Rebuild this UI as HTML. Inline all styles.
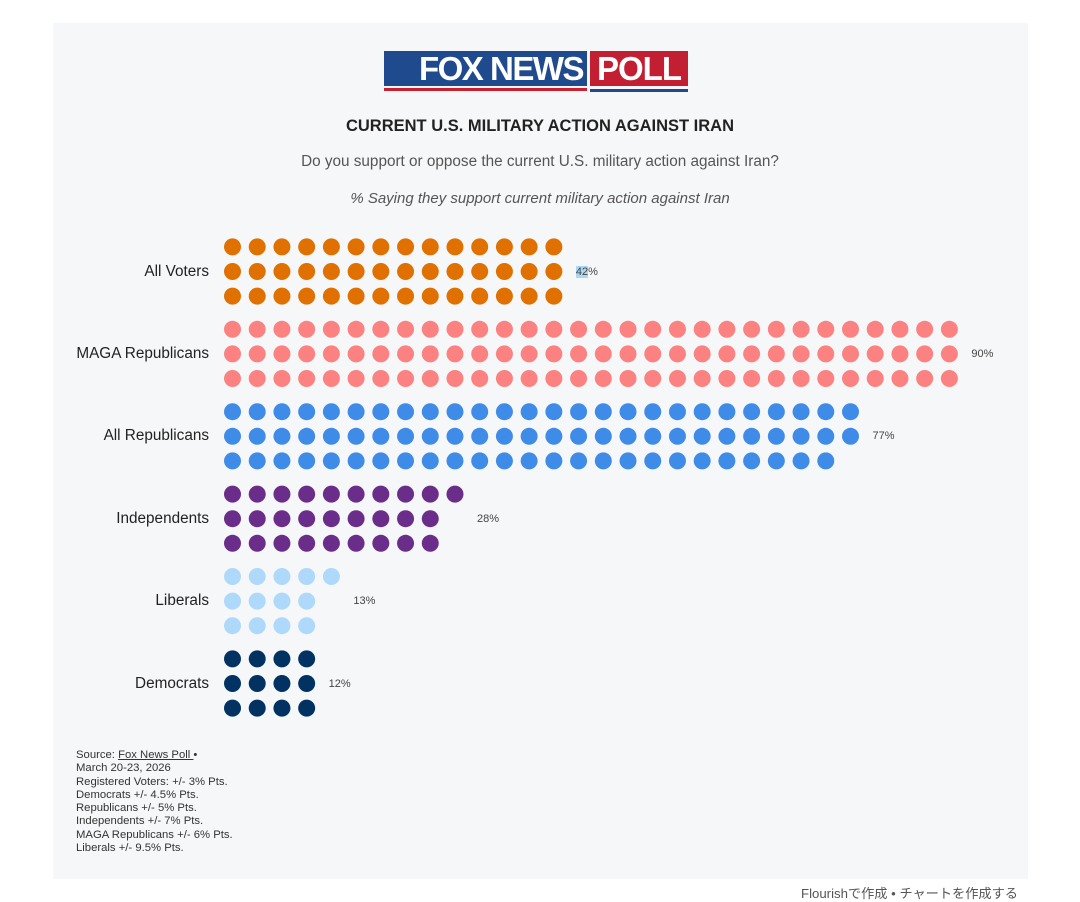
<!DOCTYPE html>
<html><head><meta charset="utf-8"><style>
body{margin:0;background:#fff;width:1080px;height:898px;position:relative;font-family:"Liberation Sans",sans-serif;overflow:hidden}
#panel{position:absolute;left:53px;top:23px;width:975px;height:856px;background:#f6f7f9}
.t{position:absolute;left:0;width:1080px;text-align:center}
.lab{position:absolute;right:871px;font-size:15.3px;color:#222;text-align:right;white-space:nowrap}
.pct{position:absolute;font-size:11px;color:#444}
#src{position:absolute;left:76px;top:749px;font-size:11.3px;line-height:13.3px;color:#333}
</style></head><body>
<div id="panel"></div>
<div style="position:absolute;left:384px;top:51px;width:203px;height:35px;background:#1f4a8e"></div>
<div style="position:absolute;left:384px;top:88px;width:203px;height:3px;background:#c8202f"></div>
<div style="position:absolute;left:590px;top:51px;width:98px;height:35px;background:#c21f32"></div>
<div style="position:absolute;left:590px;top:89px;width:98px;height:3px;background:#1f4a8e"></div>
<div style="position:absolute;left:384px;top:51px;width:203px;height:35px;color:#fff;font-weight:bold;font-size:33px;line-height:36px;text-align:right;padding-right:4px;box-sizing:border-box;letter-spacing:-1.5px">FOX NEWS</div>
<div style="position:absolute;left:590px;top:51px;width:98px;height:35px;color:#fff;font-weight:bold;font-size:33px;line-height:36px;text-align:center;letter-spacing:-1px">POLL</div>
<div class="t" style="top:117px;font-size:16.5px;font-weight:bold;color:#222">CURRENT U.S. MILITARY ACTION AGAINST IRAN</div>
<div class="t" style="top:153px;font-size:15.3px;color:#555">Do you support or oppose the current U.S. military action against Iran?</div>
<div class="t" style="top:190px;font-size:15px;color:#555;font-style:italic">% Saying they support current military action against Iran</div>
<svg id="s" width="1080" height="898" style="position:absolute;left:0;top:0"></svg>
<div id="src">Source: <u>Fox News Poll </u> •<br>March 20-23, 2026<br>Registered Voters: +/- 3% Pts.<br>Democrats +/- 4.5% Pts.<br>Republicans +/- 5% Pts.<br>Independents +/- 7% Pts.<br>MAGA Republicans +/- 6% Pts.<br>Liberals +/- 9.5% Pts.</div>
<div style="position:absolute;right:62px;top:883px;font-size:13.2px;color:#555;font-family:'Liberation Sans','Noto Sans CJK JP',sans-serif">Flourishで作成 • チャートを作成する</div>
<script>
var g=[["All Voters",[14,14,14],"#e07000","42%"],["MAGA Republicans",[30,30,30],"#fb8280","90%"],["All Republicans",[26,26,25],"#3f8ce8","77%"],["Independents",[10,9,9],"#6b2d8a","28%"],["Liberals",[5,4,4],"#aed9fb","13%"],["Democrats",[4,4,4],"#023262","12%"]];
var s="",h="";
g.forEach(function(d,i){var cy=271.5+i*82.4;
d[1].forEach(function(n,r){for(var c=0;c<n;c++)s+='<circle cx="'+(232.5+c*24.72)+'" cy="'+(cy+(r-1)*24.6)+'" r="8.5" fill="'+d[2]+'"/>';});
var mx=Math.max.apply(null,d[1]);
h+='<div class="lab" style="top:'+(cy-9)+'px">'+d[0]+'</div>';
var pt=d[3];if(i==0)pt='<span style="background:#a9d8f0">42</span>%';
h+='<div class="pct" style="left:'+(232.5+(mx-1)*24.72+22)+'px;top:'+(cy-6)+'px">'+pt+'</div>';});
document.getElementById("s").innerHTML=s;document.body.insertAdjacentHTML("beforeend",h);
</script>
</body></html>
